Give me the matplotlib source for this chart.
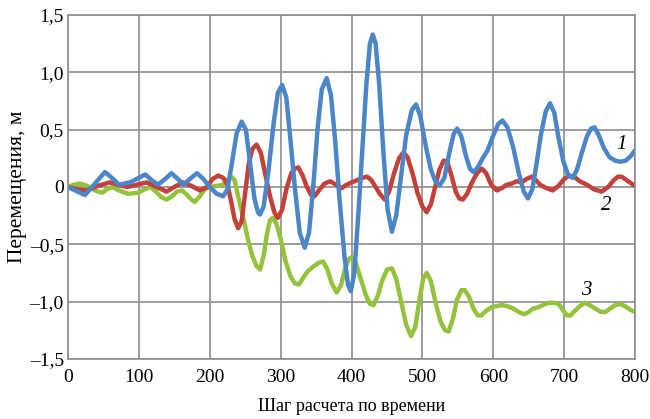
import numpy as np
from matplotlib import pyplot as plt

plt.rcParams['font.family'] = ['Liberation Serif', 'DejaVu Serif']

# кривая 1 (синяя)
x1 = [0, 10, 24, 38, 52, 62, 72, 87, 100, 109, 118, 127, 137, 146, 155, 163, 172, 182, 191, 200,
      210, 219, 225, 231, 238, 245, 251, 257, 263, 268, 271, 276, 283, 290, 296, 302, 308, 314, 320,
      327, 334, 340, 346, 352, 358, 365, 371, 377, 383, 390, 395, 399, 404, 410, 416, 421, 426, 430,
      434, 439, 445, 451, 457, 463, 470, 477, 485, 491, 497, 505, 512, 519, 525, 531, 538, 544, 549,
      555, 561, 567, 572, 578, 585, 592, 600, 607, 613, 620, 628, 636, 643, 649, 655, 661, 667, 674,
      680, 686, 692, 699, 706, 712, 718, 725, 732, 738, 743, 749, 756, 764, 772, 779, 787, 794, 800]
y1 = [0, -0.03, -0.07, 0.03, 0.13, 0.08, 0.02, 0.04, 0.08, 0.11, 0.06, 0.02, 0.07, 0.12, 0.07, 0.02,
      0.07, 0.12, 0.07, 0.0, -0.06, -0.08, -0.02, 0.2, 0.47, 0.57, 0.5, 0.2, -0.1, -0.22, -0.24, -0.17,
      0.15, 0.55, 0.82, 0.89, 0.78, 0.4, 0.0, -0.4, -0.53, -0.4, 0.0, 0.5, 0.85, 0.95, 0.8, 0.4, -0.1,
      -0.6, -0.85, -0.91, -0.75, -0.2, 0.4, 0.9, 1.25, 1.33, 1.25, 0.9, 0.3, -0.2, -0.39, -0.25, 0.1,
      0.45, 0.67, 0.72, 0.62, 0.35, 0.15, 0.04, 0.02, 0.08, 0.3, 0.46, 0.51, 0.44, 0.28, 0.16, 0.13,
      0.17, 0.25, 0.32, 0.45, 0.55, 0.58, 0.52, 0.35, 0.12, -0.04, -0.1, -0.02, 0.2, 0.45, 0.66, 0.73,
      0.65, 0.43, 0.22, 0.1, 0.08, 0.15, 0.3, 0.44, 0.51, 0.52, 0.45, 0.34, 0.26, 0.23, 0.22, 0.23,
      0.27, 0.32]

# кривая 2 (красная)
x2 = [0, 13, 26, 42, 59, 70, 83, 97, 111, 125, 139, 150, 162, 174, 186, 196, 204, 212, 219, 225,
      230, 235, 240, 245, 250, 255, 260, 266, 272, 278, 285, 291, 296, 302, 308, 315, 320, 325, 331,
      337, 343, 348, 354, 362, 370, 378, 386, 393, 400, 408, 416, 422, 428, 434, 440, 447, 453, 460,
      467, 473, 479, 486, 493, 500, 506, 512, 518, 524, 530, 535, 541, 547, 552, 557, 563, 570, 577,
      584, 590, 597, 605, 612, 619, 626, 633, 640, 647, 654, 660, 666, 675, 684, 692, 700, 707, 714,
      722, 732, 742, 753, 762, 770, 776, 781, 788, 795, 800]
y2 = [0, -0.02, -0.03, 0.01, 0.04, 0.02, 0.0, 0.02, 0.04, 0.0, -0.04, 0.0, 0.04, 0.01, -0.03, 0.0,
      0.07, 0.1, 0.08, 0.02, -0.12, -0.28, -0.36, -0.3, -0.05, 0.2, 0.33, 0.37, 0.3, 0.12, -0.08,
      -0.22, -0.27, -0.2, -0.02, 0.12, 0.16, 0.17, 0.1, 0.0, -0.07, -0.08, -0.03, 0.03, 0.05, 0.02,
      -0.01, 0.02, 0.04, 0.06, 0.08, 0.09, 0.06, 0.0, -0.06, -0.11, -0.04, 0.12, 0.25, 0.3, 0.26,
      0.12, -0.05, -0.17, -0.22, -0.15, 0.0, 0.15, 0.23, 0.22, 0.1, -0.04, -0.1, -0.11, -0.06, 0.04,
      0.12, 0.16, 0.12, 0.02, -0.03, -0.01, 0.02, 0.03, 0.05, 0.04, 0.07, 0.09, 0.06, 0.02, -0.01,
      -0.03, 0.01, 0.07, 0.1, 0.09, 0.05, 0.02, -0.02, -0.04, 0.0, 0.06, 0.09, 0.09, 0.06, 0.03, 0.01]

# кривая 3 (зеленая)
x3 = [0, 8, 17, 27, 38, 48, 55, 62, 72, 85, 99, 108, 116, 124, 132, 139, 147, 154, 161, 168, 174,
      179, 186, 193, 200, 210, 219, 226, 231, 235, 240, 247, 254, 260, 266, 271, 276, 281, 285, 289,
      294, 300, 307, 314, 320, 326, 332, 339, 347, 354, 360, 366, 372, 379, 385, 391, 396, 400, 406,
      413, 420, 426, 431, 437, 443, 450, 457, 463, 470, 477, 484, 490, 496, 501, 506, 512, 519, 526,
      532, 537, 543, 549, 555, 560, 566, 572, 578, 583, 590, 597, 604, 612, 620, 628, 636, 643, 650,
      656, 663, 670, 678, 686, 692, 698, 704, 709, 715, 722, 729, 736, 744, 752, 758, 765, 772, 779,
      786, 793, 800]
y3 = [0, 0.02, 0.03, 0.01, -0.03, -0.05, -0.02, 0.0, -0.03, -0.06, -0.05, -0.02, 0.0, -0.04, -0.09,
      -0.11, -0.08, -0.04, -0.03, -0.07, -0.11, -0.13, -0.08, -0.02, 0.0, 0.01, 0.02, 0.07, 0.09, 0.06,
      -0.08, -0.26, -0.46, -0.6, -0.69, -0.72, -0.6, -0.4, -0.29, -0.27, -0.32, -0.45, -0.65, -0.78,
      -0.84, -0.85, -0.79, -0.73, -0.69, -0.66, -0.65, -0.72, -0.84, -0.92, -0.86, -0.71, -0.63, -0.61,
      -0.66, -0.8, -0.94, -1.02, -1.03, -0.95, -0.82, -0.72, -0.71, -0.8, -1.0, -1.2, -1.3, -1.22,
      -0.98, -0.8, -0.75, -0.82, -1.02, -1.18, -1.25, -1.26, -1.15, -0.98, -0.9, -0.9, -0.96, -1.06,
      -1.12, -1.12, -1.08, -1.05, -1.04, -1.03, -1.04, -1.06, -1.09, -1.11, -1.09, -1.06, -1.05, -1.03,
      -1.01, -1.01, -1.02, -1.07, -1.12, -1.12, -1.08, -1.04, -1.01, -1.03, -1.06, -1.09, -1.09, -1.06,
      -1.03, -1.02, -1.04, -1.07, -1.09]

xticks = [0, 100, 200, 300, 400, 500, 600, 700, 800]
yticks = [-1.5, -1.0, -0.5, 0, 0.5, 1.0, 1.5]
ytick_labels = ['\u20131,5', '\u20131,0', '\u20130,5', '0', '0,5', '1,0', '1,5']

fig = plt.figure(figsize=(6.5, 4.19), dpi=100)
ax = fig.add_axes([0.1046, 0.1432, 0.8724, 0.821])

lw = 3.2
ax.plot(x3, y3, color='#95c23d', lw=lw, solid_capstyle='round', solid_joinstyle='round')
ax.plot(x2, y2, color='#c4403a', lw=lw, solid_capstyle='round', solid_joinstyle='round')
ax.plot(x1, y1, color='#4a86c8', lw=lw, solid_capstyle='round', solid_joinstyle='round')

ax.set_xlim(0, 800)
ax.set_ylim(-1.5, 1.5)
ax.set_xticks(xticks)
ax.set_yticks(yticks)
ax.set_yticklabels(ytick_labels)
ax.grid(True, color='#8c8c8c', lw=1.2)
ax.set_axisbelow(True)
for s in ax.spines.values():
    s.set_color('#8c8c8c')
    s.set_linewidth(1.2)
ax.tick_params(length=0, labelsize=14)
ax.tick_params(axis='x', pad=7)
ax.tick_params(axis='y', pad=3)

ax.set_xlabel('Шаг расчета по времени', fontsize=13, labelpad=9)
ax.set_ylabel('Перемещения, м', fontsize=15.5, labelpad=2)

ax.text(781, 0.37, '1', fontsize=15, style='italic', ha='center', va='center')
ax.text(760, -0.16, '2', fontsize=15, style='italic', ha='center', va='center')
ax.text(731, -0.9, '3', fontsize=15, style='italic', ha='center', va='center')

plt.savefig('out.png', dpi=100)
